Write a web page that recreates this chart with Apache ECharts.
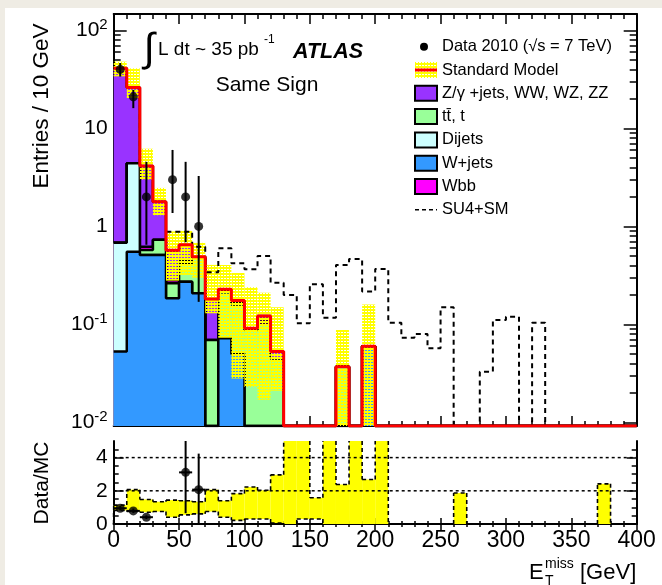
<!DOCTYPE html>
<html>
<head>
<meta charset="utf-8">
<script src="https://cdn.jsdelivr.net/npm/echarts@6/dist/echarts.min.js"></script>
<style>
  html, body { margin: 0; padding: 0; background: #ffffff; }
  #c { width: 662px; height: 585px; }
</style>
</head>
<body>
<div id="c"></div>
<script>
// ---- Binning (10 GeV bins from 0 to 400 GeV) ----
const binWidth = 10;
const nBins = 40;
const xMin = 0, xMax = 400;

// ---- Stacked backgrounds, entries per bin ----
const wjets  = [0.053, 0.553, 0.51, 0.51, 0.185, 0.273, 0.208, 0, 0.0725, 0.05, 0, 0, 0, 0, 0, 0, 0, 0, 0, 0.06,
                0, 0, 0, 0, 0, 0, 0, 0, 0, 0, 0, 0, 0, 0, 0, 0, 0, 0, 0, 0];
const dijets = [0.627, 3.857, 0, 0, 0, 0, 0, 0, 0, 0, 0, 0, 0, 0, 0, 0, 0, 0, 0, 0,
                0, 0, 0, 0, 0, 0, 0, 0, 0, 0, 0, 0, 0, 0, 0, 0, 0, 0, 0, 0];
const ttbar  = [0, 0, 0.065, 0.22, 0.078, 0.147, 0.266, 0.0695, 0.14, 0.11, 0.088, 0.1, 0.045, 0, 0, 0, 0, 0.037, 0, 0,
                0, 0, 0, 0, 0, 0, 0, 0, 0, 0, 0, 0, 0, 0, 0, 0, 0, 0, 0, 0];
const wbb    = [0, 0, 0.045, 0, 0.02, 0.03, 0.004, 0, 0.0075, 0.005, 0, 0.012, 0, 0, 0, 0, 0, 0, 0, 0,
                0, 0, 0, 0, 0, 0, 0, 0, 0, 0, 0, 0, 0, 0, 0, 0, 0, 0, 0, 0];
const zjets  = [40.42, 21.69, 3.52, 1.06, 0.287, 0.2, 0.012, 0.1125, 0.009, 0.01, 0.0035, 0.01, 0.0078, 0, 0, 0, 0, 0, 0, 0,
                0, 0, 0, 0, 0, 0, 0, 0, 0, 0, 0, 0, 0, 0, 0, 0, 0, 0, 0, 0];

// ---- Standard Model uncertainty band (low / high edge per bin) ----
const smBandLo = [34, 20.4, 3.0, 1.3, 0.28, 0.32, 0.3, 0.13, 0.073, 0.028, 0.023, 0.017, 0.021, 0, 0, 0, 0, 0, 0, 0,
                  0, 0, 0, 0, 0, 0, 0, 0, 0, 0, 0, 0, 0, 0, 0, 0, 0, 0, 0, 0];
const smBandHi = [48, 41, 6.2, 2.47, 0.89, 0.9, 0.68, 0.405, 0.405, 0.335, 0.24, 0.21, 0.15, 0, 0, 0, 0, 0.088, 0, 0.16,
                  0, 0, 0, 0, 0, 0, 0, 0, 0, 0, 0, 0, 0, 0, 0, 0, 0, 0, 0, 0];

// ---- SU4 signal + SM ----
const su4sm = [41.1, 26.1, 4.14, 1.79, 0.885, 0.885, 0.62, 0.34, 0.6, 0.42, 0.366, 0.5, 0.267, 0.2, 0.103, 0.257, 0.117, 0.405, 0.466, 0.217,
               0.368, 0.104, 0.073, 0.08, 0.057, 0.15, 0, 0, 0.033, 0.111, 0.12, 0, 0.104, 0, 0, 0, 0, 0, 0, 0];

// ---- Data 2010 ----
const dataBins = [0, 1, 2, 4, 5, 6];
const dataVals = [40, 21, 2, 3, 2, 1];
const dataUp   = [46.4, 24.7, 4.56, 6.03, 4.56, 3.27];
const dataDown = [33.8, 16.1, 0.65, 1.37, 0.69, 0.17];

// ---- Data/MC ratio panel ----
const ratioBins = [0, 1, 2, 5, 6];
const ratioVals = [0.95, 0.79, 0.41, 3.11, 2.07];
const ratioUp   = [1.08, 0.93, 0.52, 6.5, 4.24];
const ratioDown = [0.82, 0.66, 0.3, 0.65, 0];
const ratioBandLo = [0.82, 0.75, 0.71, 0.75, 0.41, 0.55, 0.61, 0.75, 0.41, 0.22, 0.3, 0.3, 0.06, 0, 0.3, 0.3, 0, 0, 0, 0,
                     0, 0, 0, 0, 0, 0, 0, 0, 0, 0, 0, 0, 0, 0, 0, 0, 0, 0, 0, 0];
const ratioBandHi = [1.14, 2.07, 1.48, 1.34, 1.44, 1.4, 1.34, 2.07, 1.4, 1.83, 2.23, 2.03, 2.96, 6, 6, 1.58, 6, 2.38, 6, 2.68,
                     6, 0, 0, 0, 0, 0, 1.87, 0, 0, 0, 0, 0, 0, 0, 0, 0, 0, 2.42, 0, 0];

// ---- Axis ranges and ticks ----
const yMin = 0.0092, yMax = 147;
const logMajor = [0.01, 0.1, 1, 10, 100];
const logMinor = [0.02, 0.03, 0.04, 0.05, 0.06, 0.07, 0.08, 0.09,
                  0.2, 0.3, 0.4, 0.5, 0.6, 0.7, 0.8, 0.9,
                  2, 3, 4, 5, 6, 7, 8, 9,
                  20, 30, 40, 50, 60, 70, 80, 90];
const ratioMin = 0, ratioMax = 5;
const ratioMajor = [0, 2, 4];
const ratioMinor = [0.5, 1, 1.5, 2.5, 3, 3.5, 4.5];
const ratioRefLines = [2, 4];

const FONT = "'Liberation Sans', Arial, Helvetica, sans-serif";
const colors = {
  zjets: '#9933ff', ttbar: '#99ff99', dijets: '#ccffff', wjets: '#3399ff', wbb: '#ff00ff'
};

// Yellow stipple used for the SM uncertainty
function makeHatch() {
  const c = document.createElement('canvas');
  c.width = 3; c.height = 3;
  const g = c.getContext('2d');
  g.fillStyle = '#ffff00';
  g.fillRect(0, 0, 3, 2);
  g.fillRect(1, 2, 1, 1);
  return c;
}
const hatch = { image: makeHatch(), repeat: 'repeat' };

// Histogram as step polyline in data coordinates
function stepPairs(vals, floor) {
  const pts = [];
  vals.forEach((v, i) => {
    const y = v > 0 ? v : floor;
    pts.push([i * binWidth, y], [(i + 1) * binWidth, y]);
  });
  return pts;
}
function addArrays(list) {
  return list[0].map((_, i) => list.reduce((s, a) => s + a[i], 0));
}

// Cumulative stack levels (bottom to top: W+jets, Dijets, ttbar, Wbb, Z/gamma)
const stackOrder = [
  { vals: wjets, color: colors.wjets },
  { vals: dijets, color: colors.dijets },
  { vals: ttbar, color: colors.ttbar },
  { vals: wbb, color: colors.wbb },
  { vals: zjets, color: colors.zjets }
];
const stackSeries = [];
for (let k = stackOrder.length - 1; k >= 0; k--) {
  const cum = addArrays(stackOrder.slice(0, k + 1).map(s => s.vals));
  stackSeries.push({
    type: 'line', xAxisIndex: 0, yAxisIndex: 0,
    data: stepPairs(cum, yMin),
    symbol: 'none', silent: true,
    z: 2 + (stackOrder.length - k),
    lineStyle: { color: '#000', width: 2.5 },
    areaStyle: { color: stackOrder[k].color, opacity: 1, origin: 'start' }
  });
}
const smTotal = addArrays(stackOrder.map(s => s.vals));

function bandRows(lo, hi, floor, ceil) {
  const rows = [];
  lo.forEach((l, i) => {
    if (hi[i] > 0) rows.push([i * binWidth, (i + 1) * binWidth, Math.max(l, floor), Math.min(hi[i], ceil)]);
  });
  return rows;
}
function rectItem(fill) {
  return function (params, api) {
    const p0 = api.coord([api.value(0), api.value(3)]);
    const p1 = api.coord([api.value(1), api.value(2)]);
    return {
      type: 'rect',
      shape: { x: p0[0], y: p0[1], width: p1[0] - p0[0], height: p1[1] - p0[1] },
      style: { fill: fill }
    };
  };
}
function errItem(width) {
  return function (params, api) {
    const a = api.coord([api.value(0), api.value(2)]);
    const b = api.coord([api.value(0), api.value(1)]);
    return { type: 'line', shape: { x1: a[0], y1: a[1], x2: b[0], y2: b[1] },
             style: { stroke: '#000', lineWidth: width } };
  };
}
// Ratio band: yellow bins
function ratioFillItem(params, api) {
  const children = [];
  ratioBandHi.forEach(function (hi, i) {
    if (hi <= 0) return;
    const p0 = api.coord([i * binWidth, Math.min(hi, ratioMax)]);
    const p1 = api.coord([(i + 1) * binWidth, Math.max(ratioBandLo[i], ratioMin)]);
    children.push({ type: 'rect',
                    shape: { x: p0[0], y: p0[1], width: p1[0] - p0[0], height: p1[1] - p0[1] },
                    style: { fill: '#ffff00' } });
  });
  return { type: 'group', children: children };
}
// Ratio band: dashed contour of both edges, one segment at a time
function ratioEdgeItem(params, api) {
  const children = [];
  const dash = { stroke: '#000', lineWidth: 1.6, lineDash: [4, 3] };
  function seg(xa, ya, xb, yb) {
    const a = api.coord([xa, ya]);
    const b = api.coord([xb, yb]);
    if (Math.abs(a[0] - b[0]) < 0.5 && Math.abs(a[1] - b[1]) < 0.5) return;
    children.push({ type: 'line', shape: { x1: a[0], y1: a[1], x2: b[0], y2: b[1] }, style: dash });
  }
  [ratioBandHi, ratioBandLo].forEach(function (edge) {
    const lvl = edge.map(v => Math.min(Math.max(v, ratioMin), ratioMax));
    lvl.forEach(function (y, i) {
      const prev = i > 0 ? lvl[i - 1] : ratioMin;
      if (y !== prev) seg(i * binWidth, prev, i * binWidth, y);
      if (y > ratioMin && y < ratioMax) seg(i * binWidth, y, (i + 1) * binWidth, y);
    });
    const last = lvl[lvl.length - 1];
    if (last !== ratioMin) seg(nBins * binWidth, last, nBins * binWidth, ratioMin);
  });
  return { type: 'group', children: children };
}

const axisLine = { show: true, lineStyle: { color: '#000', width: 2 } };
const tickStyle = { color: '#000', width: 1.5 };

function xAxisDef(grid, pos, labels, major, minor) {
  return {
    type: 'value', gridIndex: grid, position: pos, min: xMin, max: xMax, interval: 50,
    axisLine: axisLine,
    axisTick: { show: true, inside: true, length: major, lineStyle: tickStyle },
    minorTick: { show: true, splitNumber: 5, length: minor, lineStyle: tickStyle },
    splitLine: { show: false },
    axisLabel: labels ? { show: true, fontSize: 23, fontFamily: FONT, color: '#000', margin: 5,
                          formatter: v => String(v) } : { show: false }
  };
}
const powRich = {
  b: { fontSize: 21, fontFamily: FONT, color: '#000', lineHeight: 26 },
  s: { fontSize: 15, fontFamily: FONT, color: '#000', verticalAlign: 'top', lineHeight: 15 }
};
function powLabel(v) {
  const e = Math.round(Math.log10(v));
  if (e === 0) return '{b|1}';
  if (e === 1) return '{b|10}';
  return '{b|10}{s|' + (e < 0 ? '-' : '') + Math.abs(e) + '}';
}
function logAxisDef(pos, values, len, withLabels, withLine) {
  return {
    type: 'log', gridIndex: 0, position: pos, min: yMin, max: yMax,
    axisLine: withLine ? axisLine : { show: false },
    axisTick: { show: true, inside: true, length: len, customValues: values, lineStyle: tickStyle },
    splitLine: { show: false },
    axisLabel: withLabels ? { show: true, customValues: values, formatter: powLabel, rich: powRich, margin: 6 }
                          : { show: false }
  };
}
function ratioAxisDef(pos, values, len, withLabels, withLine) {
  return {
    type: 'value', gridIndex: 1, position: pos, min: ratioMin, max: ratioMax,
    axisLine: withLine ? axisLine : { show: false },
    axisTick: { show: true, inside: true, length: len, customValues: values, lineStyle: tickStyle },
    splitLine: { show: false },
    axisLabel: withLabels ? { show: true, customValues: values, fontSize: 21, fontFamily: FONT, color: '#000', margin: 6 }
                          : { show: false }
  };
}

// ---- Legend ----
const legendX = 415, legendTextX = 442, legendY0 = 46.7, legendDY = 23.3;
const legendEntries = [
  { kind: 'dot', text: 'Data 2010 (\u221As = 7 TeV)' },
  { kind: 'sm', text: 'Standard Model' },
  { kind: 'box', color: colors.zjets, text: 'Z/\u03b3 +jets, WW, WZ, ZZ' },
  { kind: 'box', color: colors.ttbar, text: 'tt\u0304, t' },
  { kind: 'box', color: colors.dijets, text: 'Dijets' },
  { kind: 'box', color: colors.wjets, text: 'W+jets' },
  { kind: 'box', color: colors.wbb, text: 'Wbb' },
  { kind: 'dash', text: 'SU4+SM' }
];
const graphics = [
  { type: 'rect', shape: { x: 0, y: 0, width: 662, height: 8 }, style: { fill: '#efece4' }, z: 100 },
  { type: 'rect', shape: { x: 0, y: 0, width: 5, height: 585 }, style: { fill: '#efece4' }, z: 100 }
];
legendEntries.forEach((e, i) => {
  const cy = legendY0 + i * legendDY;
  if (e.kind === 'dot') {
    graphics.push({ type: 'circle', shape: { cx: legendX + 9, cy: cy, r: 4 }, style: { fill: '#000' }, z: 100 });
  } else if (e.kind === 'sm') {
    graphics.push({ type: 'rect', shape: { x: legendX, y: cy - 8, width: 22, height: 16 }, style: { fill: hatch }, z: 100 });
    graphics.push({ type: 'line', shape: { x1: legendX, y1: cy, x2: legendX + 22, y2: cy },
                    style: { stroke: '#ff0000', lineWidth: 3 }, z: 101 });
  } else if (e.kind === 'box') {
    graphics.push({ type: 'rect', shape: { x: legendX, y: cy - 7.5, width: 22, height: 15 },
                    style: { fill: e.color, stroke: '#000', lineWidth: 2 }, z: 100 });
  } else if (e.kind === 'dash') {
    graphics.push({ type: 'line', shape: { x1: legendX, y1: cy, x2: legendX + 22, y2: cy },
                    style: { stroke: '#000', lineWidth: 1.5, lineDash: [4, 3] }, z: 100 });
  }
  graphics.push({ type: 'text', x: legendTextX, y: cy, z: 100,
                  style: { text: e.text, font: '16.5px ' + FONT, fill: '#000', align: 'left', verticalAlign: 'middle' } });
});

// ---- Labels on the canvas ----
graphics.push(
  { type: 'text', x: 149, y: 50, z: 100,
    style: { text: '\u222b', font: '40px ' + FONT, fill: '#000', align: 'center', verticalAlign: 'middle' } },
  { type: 'text', x: 158, y: 50, z: 100,
    style: { text: 'L dt ~ 35 pb', font: '19px ' + FONT, fill: '#000', align: 'left', verticalAlign: 'middle' } },
  { type: 'text', x: 264, y: 40, z: 100,
    style: { text: '-1', font: '12px ' + FONT, fill: '#000', align: 'left', verticalAlign: 'middle' } },
  { type: 'text', x: 293, y: 52, z: 100,
    style: { text: 'ATLAS', font: 'italic bold 21.5px ' + FONT, fill: '#000', align: 'left', verticalAlign: 'middle' } },
  { type: 'text', x: 267, y: 85, z: 100,
    style: { text: 'Same Sign', font: '21px ' + FONT, fill: '#000', align: 'center', verticalAlign: 'middle' } },
  { type: 'text', x: 42, y: 106, rotation: Math.PI / 2, z: 100,
    style: { text: 'Entries / 10 GeV', font: '22.5px ' + FONT, fill: '#000', align: 'center', verticalAlign: 'middle' } },
  { type: 'text', x: 42, y: 483, rotation: Math.PI / 2, z: 100,
    style: { text: 'Data/MC', font: '21px ' + FONT, fill: '#000', align: 'center', verticalAlign: 'middle' } },
  { type: 'text', x: 529, y: 573, z: 100,
    style: { text: 'E', font: '22px ' + FONT, fill: '#000', align: 'left', verticalAlign: 'middle' } },
  { type: 'text', x: 545, y: 564, z: 100,
    style: { text: 'miss', font: '14px ' + FONT, fill: '#000', align: 'left', verticalAlign: 'middle' } },
  { type: 'text', x: 545, y: 581, z: 100,
    style: { text: 'T', font: '14px ' + FONT, fill: '#000', align: 'left', verticalAlign: 'middle' } },
  { type: 'text', x: 580, y: 573, z: 100,
    style: { text: '[GeV]', font: '22px ' + FONT, fill: '#000', align: 'left', verticalAlign: 'middle' } }
);

const series = [
  // SU4+SM dashed step (under the SM line where they coincide)
  { type: 'line', xAxisIndex: 0, yAxisIndex: 0, data: stepPairs(su4sm, yMin), symbol: 'none', silent: true,
    z: 9, lineStyle: { color: '#000', width: 2, type: [5, 4] } },
  ...stackSeries,
  // SM uncertainty
  { type: 'custom', xAxisIndex: 0, yAxisIndex: 0, z: 8, silent: true,
    data: bandRows(smBandLo, smBandHi, yMin, yMax), encode: { x: [0, 1], y: [2, 3] },
    renderItem: rectItem(hatch) },
  // SM total
  { type: 'line', xAxisIndex: 0, yAxisIndex: 0, data: stepPairs(smTotal, yMin), symbol: 'none', silent: true,
    z: 10, lineStyle: { color: '#ff0000', width: 3 } },
  // Data
  { type: 'custom', xAxisIndex: 0, yAxisIndex: 0, z: 11, silent: true, clip: true,
    data: dataBins.map((b, i) => [(b + 0.5) * binWidth, dataDown[i], dataUp[i]]), encode: { x: 0, y: [1, 2] },
    renderItem: errItem(2) },
  { type: 'scatter', xAxisIndex: 0, yAxisIndex: 0, z: 12, silent: true, symbol: 'circle', symbolSize: 9,
    itemStyle: { color: '#000' },
    data: dataBins.map((b, i) => [(b + 0.5) * binWidth, dataVals[i]]) },

  // Ratio band and its dashed contour
  { type: 'custom', xAxisIndex: 2, yAxisIndex: 4, z: 3,
    data: [[xMin, ratioMin]], encode: { x: 0, y: 1 },
    renderItem: ratioFillItem },
  { type: 'custom', xAxisIndex: 2, yAxisIndex: 4, z: 6,
    data: [[xMin, ratioMin]], encode: { x: 0, y: 1 },
    renderItem: ratioEdgeItem },
  ...ratioRefLines.map(r => ({
    type: 'line', xAxisIndex: 2, yAxisIndex: 4, z: 7, silent: true, symbol: 'none',
    data: [[xMin, r], [xMax, r]], lineStyle: { color: '#000', width: 1.5, type: [3, 3] }
  })),
  { type: 'custom', xAxisIndex: 2, yAxisIndex: 4, z: 8, silent: true, clip: true,
    data: ratioBins.map((b, i) => [(b + 0.5) * binWidth, ratioDown[i], ratioUp[i]]), encode: { x: 0, y: [1, 2] },
    renderItem: errItem(2) },
  { type: 'custom', xAxisIndex: 2, yAxisIndex: 4, z: 8, silent: true, clip: true,
    data: ratioBins.map((b, i) => [b * binWidth, (b + 1) * binWidth, ratioVals[i]]), encode: { x: [0, 1], y: 2 },
    renderItem: function (params, api) {
      const a = api.coord([api.value(0), api.value(2)]);
      const b = api.coord([api.value(1), api.value(2)]);
      return { type: 'line', shape: { x1: a[0], y1: a[1], x2: b[0], y2: b[1] }, style: { stroke: '#000', lineWidth: 2 } };
    } },
  { type: 'scatter', xAxisIndex: 2, yAxisIndex: 4, z: 9, silent: true, symbol: 'circle', symbolSize: 9,
    itemStyle: { color: '#000' },
    data: ratioBins.map((b, i) => [(b + 0.5) * binWidth, ratioVals[i]]) }
];

const chart = echarts.init(document.getElementById('c'), null, { renderer: 'canvas' });
chart.setOption({
  animation: false,
  backgroundColor: '#ffffff',
  grid: [
    { left: 113.7, top: 14, width: 523, height: 412 },
    { left: 113.7, top: 441, width: 523, height: 83 }
  ],
  xAxis: [
    xAxisDef(0, 'bottom', false, 10, 5),
    xAxisDef(0, 'top', false, 10, 5),
    xAxisDef(1, 'bottom', true, 6, 3),
    xAxisDef(1, 'top', false, 6, 3)
  ],
  yAxis: [
    logAxisDef('left', logMajor, 13, true, true),
    logAxisDef('left', logMinor, 7, false, false),
    logAxisDef('right', logMajor, 13, false, true),
    logAxisDef('right', logMinor, 7, false, false),
    ratioAxisDef('left', ratioMajor, 10, true, true),
    ratioAxisDef('left', ratioMinor, 5, false, false),
    ratioAxisDef('right', ratioMajor, 10, false, true),
    ratioAxisDef('right', ratioMinor, 5, false, false)
  ],
  graphic: graphics,
  series: series
});
</script>
</body>
</html>
